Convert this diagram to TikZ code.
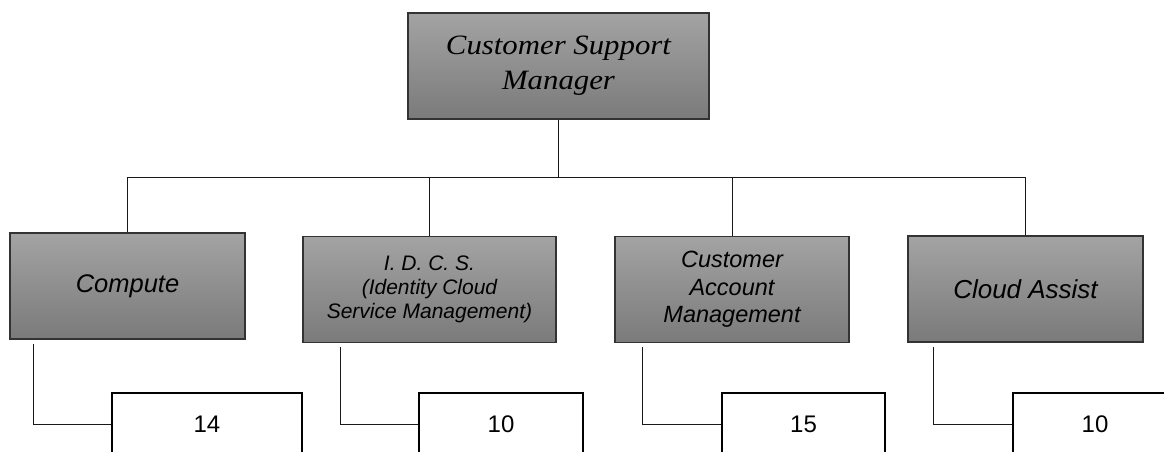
\documentclass[tikz,border=0pt]{standalone}
\usepackage{fontspec}
\setmainfont{Liberation Serif}[FakeStretch=1.1]
\setsansfont{Liberation Sans}

\begin{document}
\begin{tikzpicture}[x=1pt,y=-1pt]
	\path[use as bounding box,clip] (0,0) rectangle (1164,451);

	\tikzstyle{manager}=[rectangle,draw=black!80,line width=1.2pt,
	top color=black!36,bottom color=black!52,minimum width=301pt,
	minimum height=106pt,align=center,
	font=\rmfamily\itshape\fontsize{28}{35}\selectfont]
	\tikzstyle{team}=[rectangle,draw=black!80,line width=1.2pt,
	top color=black!36,bottom color=black!52,minimum height=106pt,
	align=center]
	\tikzstyle{headcount}=[rectangle,draw=black,line width=2.5pt,
	fill=white,minimum height=62pt,
	font=\sffamily\fontsize{24}{28}\selectfont]

	\node[manager] (csm) at (558.5,66) {Customer Support\\Manager};

	\node[team,minimum width=235pt,
	font=\sffamily\itshape\fontsize{25.5}{30}\selectfont] (compute) at (127.5,286)
	{Compute};
	\node[team,minimum width=253pt,
	font=\sffamily\itshape\fontsize{21}{24}\selectfont] (idcs) at (429.5,289.5)
	{I. D. C. S.\\(Identity Cloud\\Service Management)};
	\node[team,minimum width=234pt,
	font=\sffamily\itshape\fontsize{23.5}{27.5}\selectfont] (cam) at (732,289.5)
	{Customer\\Account\\Management};
	\node[team,minimum width=235pt,
	font=\sffamily\itshape\fontsize{26}{30}\selectfont] (cloud) at (1025.5,289)
	{Cloud Assist};

	\node[headcount,minimum width=190pt] (n14) at (207,424) {14};
	\node[headcount,minimum width=164pt] (n10a) at (501,424) {10};
	\node[headcount,minimum width=163pt] (n15) at (803.5,424) {15};
	\node[headcount,minimum width=164pt] (n10b) at (1095,424) {10};

	\tikzstyle{link}=[draw=black!90,line width=1pt]

	\draw[link] (csm.south) -- ++(0,58) coordinate (bus);
	\draw[link] (compute.north) |- (bus) -| (cloud.north);
	\draw[link] (idcs.north) |- (bus);
	\draw[link] (cam.north) |- (bus);
	\draw[link] ([xshift=24pt,yshift=-4pt]compute.south west) |- (n14.west);
	\draw[link] ([xshift=38pt,yshift=-4pt]idcs.south west) |- (n10a.west);
	\draw[link] ([xshift=28pt,yshift=-4pt]cam.south west) |- (n15.west);
	\draw[link] ([xshift=26pt,yshift=-4pt]cloud.south west) |- (n10b.west);
\end{tikzpicture}
\end{document}
